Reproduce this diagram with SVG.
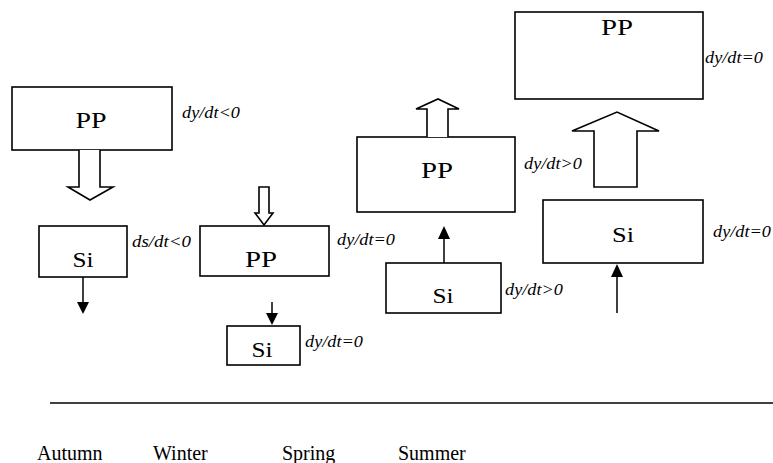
<svg xmlns="http://www.w3.org/2000/svg" width="773" height="463" viewBox="0 0 773 463">
<style>
.box{fill:#fff;stroke:#000;stroke-width:1.6}
.hollow{fill:#fff;stroke:#000;stroke-width:1.6;stroke-linejoin:miter}
.ln{stroke:#000;stroke-width:1.5;fill:none}
.head{fill:#000}
.t{font-family:"Liberation Serif","Times New Roman",serif;fill:#000;text-anchor:middle}
.lab{font-family:"Liberation Serif","Times New Roman",serif;font-style:italic;font-size:17px;fill:#000}
.season{font-family:"Liberation Serif","Times New Roman",serif;font-size:20px;fill:#000}
</style>
<rect width="773" height="463" fill="#fff"/>

<g id="autumn-pp">
<rect class="box" x="12" y="87" width="160" height="63"/>
<text class="t" x="91" y="128" font-size="23" textLength="31" lengthAdjust="spacingAndGlyphs">PP</text>
<text class="lab" x="182" y="118" textLength="58" lengthAdjust="spacingAndGlyphs">dy/dt&lt;0</text>
</g>
<g id="autumn-si">
<rect class="box" x="39" y="226" width="88" height="51"/>
<text class="t" x="83" y="267" font-size="21" textLength="21" lengthAdjust="spacingAndGlyphs">Si</text>
<text class="lab" x="132" y="247" textLength="59" lengthAdjust="spacingAndGlyphs">ds/dt&lt;0</text>
</g>

<g id="winter-pp">
<rect class="box" x="200" y="226" width="129" height="50"/>
<text class="t" x="261" y="267" font-size="23" textLength="32" lengthAdjust="spacingAndGlyphs">PP</text>
<text class="lab" x="337" y="245" textLength="58" lengthAdjust="spacingAndGlyphs">dy/dt=0</text>
</g>
<g id="winter-si">
<rect class="box" x="227" y="326" width="73" height="39"/>
<text class="t" x="262" y="357" font-size="21" textLength="21" lengthAdjust="spacingAndGlyphs">Si</text>
<text class="lab" x="305" y="347" textLength="58" lengthAdjust="spacingAndGlyphs">dy/dt=0</text>
</g>

<g id="spring-pp">
<rect class="box" x="357" y="137" width="158" height="75"/>
<text class="t" x="437" y="178" font-size="23" textLength="32" lengthAdjust="spacingAndGlyphs">PP</text>
<text class="lab" x="524" y="169" textLength="58" lengthAdjust="spacingAndGlyphs">dy/dt&gt;0</text>
</g>
<g id="spring-si">
<rect class="box" x="386" y="263" width="115" height="50"/>
<text class="t" x="443" y="303" font-size="21" textLength="21" lengthAdjust="spacingAndGlyphs">Si</text>
<text class="lab" x="505" y="295" textLength="58" lengthAdjust="spacingAndGlyphs">dy/dt&gt;0</text>
</g>

<g id="summer-pp">
<rect class="box" x="515" y="12" width="188" height="87"/>
<text class="t" x="617" y="35" font-size="23" textLength="32" lengthAdjust="spacingAndGlyphs">PP</text>
<text class="lab" x="705" y="63" textLength="58" lengthAdjust="spacingAndGlyphs">dy/dt=0</text>
</g>
<g id="summer-si">
<rect class="box" x="543" y="200" width="160" height="63"/>
<text class="t" x="623" y="242" font-size="22" textLength="22" lengthAdjust="spacingAndGlyphs">Si</text>
<text class="lab" x="713" y="237" textLength="58" lengthAdjust="spacingAndGlyphs">dy/dt=0</text>
</g>

<g id="connectors">
<path class="hollow" d="M79,150 V187 H68 L90,200 L113,187 H100 V150"/>
<line class="ln" x1="83" y1="277" x2="83" y2="303"/>
<polygon class="head" points="77,302 89,302 83,314"/>

<path class="hollow" d="M259,187 V213 H255 L264,225 L273,213 H269 V187 Z"/>
<line class="ln" x1="272" y1="302" x2="272" y2="314"/>
<polygon class="head" points="266,313 278,313 272,325"/>

<path class="hollow" d="M427,137 V109 H416 L438,99 L459,109 H448 V137"/>
<line class="ln" x1="444" y1="263" x2="444" y2="238"/>
<polygon class="head" points="438,239 450,239 444,226"/>

<path class="hollow" d="M594,187 V131 H572 L617,112 L659,131 H637 V187 Z"/>
<line class="ln" x1="617" y1="313" x2="617" y2="276"/>
<polygon class="head" points="611,277 623,277 617,264"/>
</g>

<g id="timeline">
<line class="ln" x1="50" y1="403" x2="773" y2="403"/>
<text class="season" x="37" y="460">Autumn</text>
<text class="season" x="153" y="460">Winter</text>
<text class="season" x="282" y="460">Spring</text>
<text class="season" x="398" y="460">Summer</text>
</g>
</svg>
